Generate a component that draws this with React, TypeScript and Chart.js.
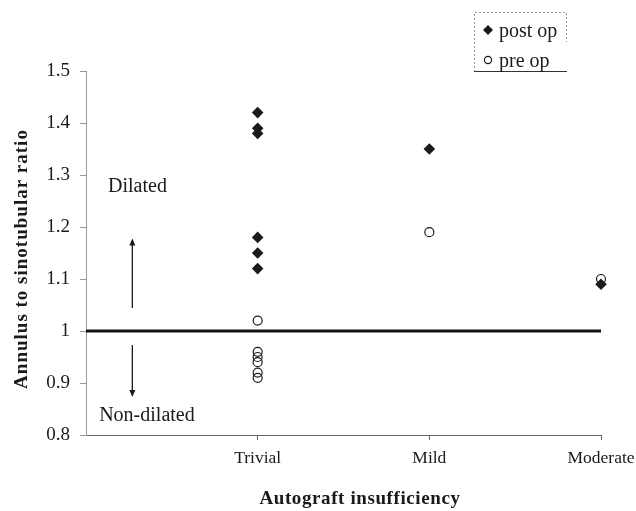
import React, { useEffect, useRef } from "react";
import { Chart, registerables } from "chart.js";

Chart.register(...registerables);

// ---- data ----
const categories = ["Trivial", "Mild", "Moderate"];
const postOpCategory = ["Trivial", "Trivial", "Trivial", "Trivial", "Trivial", "Trivial", "Mild", "Moderate"];
const postOpValues = [1.42, 1.39, 1.38, 1.18, 1.15, 1.12, 1.35, 1.09];
const preOpCategory = ["Trivial", "Trivial", "Trivial", "Trivial", "Trivial", "Trivial", "Mild", "Moderate"];
const preOpValues = [1.02, 0.96, 0.95, 0.94, 0.92, 0.91, 1.19, 1.1];
const yTickValues = [0.8, 0.9, 1.0, 1.1, 1.2, 1.3, 1.4, 1.5];
const referenceValue = 1;
const seriesLabels = ["post op", "pre op"];
const yTitle = "Annulus to sinotubular ratio";
const xTitle = "Autograft insufficiency";
const annotationTexts = ["Dilated", "Non-dilated"];

// annotation anchors in data units
const arrowX = 0.27;
const upArrow = [1.044, 1.178];
const downArrow = [0.973, 0.873];
const textAnchors = [
  { x: 0.3, y: 1.277 },
  { x: 0.355, y: 0.8365 },
];

const FONT = "'Liberation Serif', 'Times New Roman', serif";
const INK = "#1a1a1a";

const catX = (c: string) => categories.indexOf(c) + 1;

function drawArrow(ctx: CanvasRenderingContext2D, x: number, y0: number, y1: number) {
  const dir = y1 < y0 ? -1 : 1;
  ctx.beginPath();
  ctx.moveTo(x, y0);
  ctx.lineTo(x, y1 - dir * 6);
  ctx.stroke();
  ctx.beginPath();
  ctx.moveTo(x, y1);
  ctx.lineTo(x - 3, y1 - dir * 7);
  ctx.lineTo(x + 3, y1 - dir * 7);
  ctx.closePath();
  ctx.fill();
}

const overlayPlugin = {
  id: "overlay",
  afterDraw(chart: any) {
    const ctx: CanvasRenderingContext2D = chart.ctx;
    const xs = chart.scales.x;
    const ys = chart.scales.y;
    ctx.save();
    ctx.strokeStyle = INK;
    ctx.fillStyle = INK;
    ctx.lineWidth = 1.3;
    const ax = xs.getPixelForValue(arrowX);
    drawArrow(ctx, ax, ys.getPixelForValue(upArrow[0]), ys.getPixelForValue(upArrow[1]));
    drawArrow(ctx, ax, ys.getPixelForValue(downArrow[0]), ys.getPixelForValue(downArrow[1]));

    ctx.font = `20px ${FONT}`;
    ctx.textAlign = "center";
    ctx.textBaseline = "middle";
    annotationTexts.forEach((t, i) => {
      ctx.fillText(t, xs.getPixelForValue(textAnchors[i].x), ys.getPixelForValue(textAnchors[i].y));
    });

    // axis titles
    ctx.font = `bold 19px ${FONT}`;
    (ctx as any).letterSpacing = "1px";
    ctx.save();
    ctx.translate(22, 259);
    ctx.rotate(-Math.PI / 2);
    ctx.fillText(yTitle, 0, 0);
    ctx.restore();
    (ctx as any).letterSpacing = "0.6px";
    ctx.fillText(xTitle, 360, 499);
    (ctx as any).letterSpacing = "0px";

    // legend
    const bx0 = 474, bx1 = 567, by0 = 12, by1 = 72;
    ctx.lineWidth = 1;
    ctx.strokeStyle = "#999";
    ctx.setLineDash([2, 2]);
    ctx.beginPath();
    ctx.moveTo(bx0 + 0.5, by1);
    ctx.lineTo(bx0 + 0.5, by0 + 0.5);
    ctx.lineTo(bx1 - 0.5, by0 + 0.5);
    ctx.lineTo(bx1 - 0.5, by0 + 30);
    ctx.stroke();
    ctx.setLineDash([]);
    ctx.strokeStyle = "#333";
    ctx.beginPath();
    ctx.moveTo(bx0, by1 - 0.5);
    ctx.lineTo(bx1, by1 - 0.5);
    ctx.stroke();

    // diamond
    ctx.fillStyle = INK;
    ctx.beginPath();
    ctx.moveTo(488, 25);
    ctx.lineTo(493, 30);
    ctx.lineTo(488, 35);
    ctx.lineTo(483, 30);
    ctx.closePath();
    ctx.fill();
    // circle
    ctx.strokeStyle = INK;
    ctx.lineWidth = 1.2;
    ctx.beginPath();
    ctx.arc(488, 60, 3.6, 0, Math.PI * 2);
    ctx.stroke();

    ctx.font = `20px ${FONT}`;
    ctx.textAlign = "left";
    ctx.textBaseline = "alphabetic";
    ctx.fillText(seriesLabels[0], 499, 37);
    ctx.fillText(seriesLabels[1], 499, 67);
    ctx.restore();
  },
};

export default function App() {
  const ref = useRef<HTMLCanvasElement | null>(null);
  useEffect(() => {
    if (!ref.current) return;
    const chart = new Chart(ref.current, {
      type: "scatter",
      data: {
        datasets: [
          {
            label: seriesLabels[0],
            data: postOpValues.map((v, i) => ({ x: catX(postOpCategory[i]), y: v })),
            pointStyle: "rectRot",
            pointRadius: 5.8,
            backgroundColor: INK,
            borderColor: INK,
            borderWidth: 0,
            clip: false,
          } as any,
          {
            label: seriesLabels[1],
            data: preOpValues.map((v, i) => ({ x: catX(preOpCategory[i]), y: v })),
            pointStyle: "circle",
            pointRadius: 4.5,
            backgroundColor: "rgba(0,0,0,0)",
            borderColor: INK,
            borderWidth: 1.2,
            clip: false,
          } as any,
          {
            label: "reference",
            data: [
              { x: 0, y: referenceValue },
              { x: categories.length, y: referenceValue },
            ],
            showLine: true,
            pointRadius: 0,
            borderColor: "#111",
            borderWidth: 3,
          } as any,
        ],
      },
      options: {
        animation: false,
        responsive: false,
        events: [],
        layout: { padding: { top: 71, right: 35, left: 0, bottom: 0 }, autoPadding: false } as any,
        plugins: { legend: { display: false }, tooltip: { enabled: false } },
        scales: {
          x: {
            type: "linear",
            min: 0,
            max: categories.length,
            afterBuildTicks: (s: any) => {
              s.ticks = categories.map((_, i) => ({ value: i + 1 }));
            },
            afterFit: (s: any) => {
              s.height = 76;
              s.paddingLeft = 0;
              s.paddingRight = 0;
              s.paddingTop = 0;
              s.paddingBottom = 0;
            },
            ticks: {
              callback: (v: any) => categories[Number(v) - 1] ?? "",
              color: INK,
              font: { family: FONT, size: 17.5 },
              padding: 8,
              maxRotation: 0,
              autoSkip: false,
            },
            grid: { drawOnChartArea: false, drawTicks: true, tickLength: 5, color: "#666" },
            border: { color: "#666", width: 1 },
          },
          y: {
            type: "linear",
            min: 0.8,
            max: 1.5,
            afterBuildTicks: (s: any) => {
              s.ticks = yTickValues.map((v) => ({ value: v }));
            },
            afterFit: (s: any) => {
              s.width = 86;
              s.paddingTop = 0;
              s.paddingBottom = 0;
            },
            ticks: {
              callback: (v: any) => String(Math.round(Number(v) * 10) / 10),
              color: INK,
              font: { family: FONT, size: 19 },
              padding: 10,
              autoSkip: false,
            },
            grid: { drawOnChartArea: false, drawTicks: true, tickLength: 6, color: "#999" },
            border: { color: "#999", width: 1 },
          },
        },
      } as any,
      plugins: [overlayPlugin],
    });
    return () => chart.destroy();
  }, []);
  return (
    <div style={{ position: "absolute", left: 0, top: 0, width: 636, height: 511, background: "#fff" }}>
      <canvas ref={ref} width={636} height={511} style={{ display: "block" }} />
    </div>
  );
}
